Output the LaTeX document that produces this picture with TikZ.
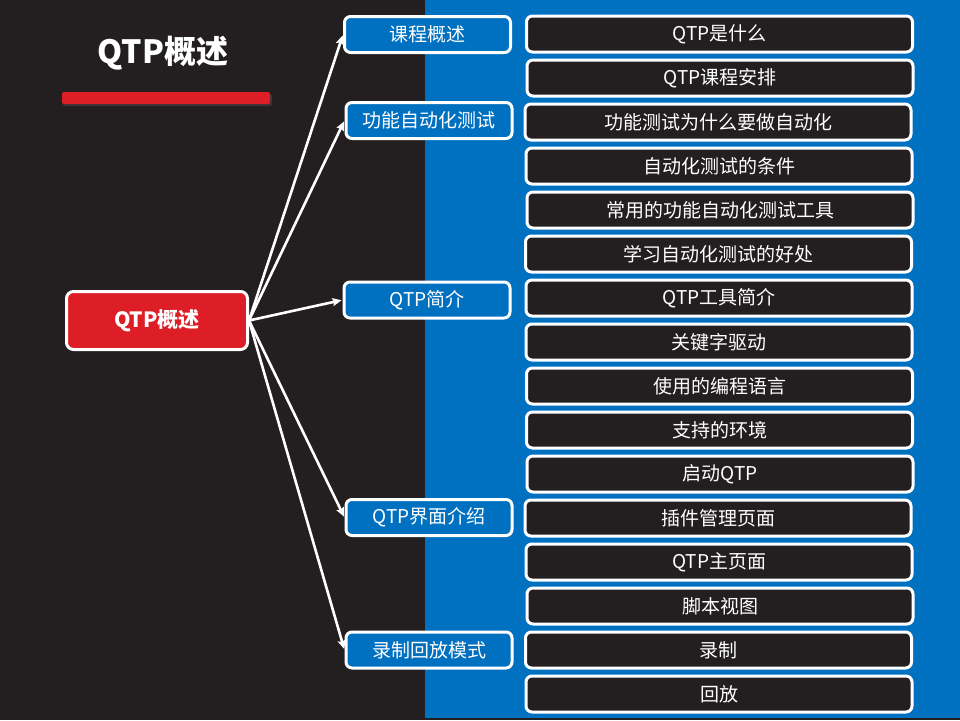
\documentclass[tikz,border=0pt]{standalone}
\usepackage{fontspec}
\setmainfont{Noto Sans CJK SC}
\usetikzlibrary{arrows.meta}
\definecolor{bgdark}{RGB}{35,31,32}
\definecolor{bgblue}{RGB}{0,112,192}
\definecolor{mred}{RGB}{222,30,38}
\begin{document}
\begin{tikzpicture}[x=1pt,y=-1pt,
  rootbox/.style={draw=white, line width=3pt, fill=mred, rounded corners=7pt,
    minimum width=181pt, minimum height=58pt, text=white, font=\fontsize{21}{25}\selectfont\bfseries, inner sep=0pt},
  lvlone/.style={draw=white, line width=3pt, fill=bgblue, rounded corners=6pt,
    minimum width=166pt, minimum height=36pt, text=white, font=\fontsize{19}{23}\selectfont, inner sep=0pt},
  lvltwo/.style={draw=white, line width=3pt, fill=bgdark, rounded corners=6pt,
    minimum width=386pt, minimum height=36pt, text=white, font=\fontsize{19}{23}\selectfont, inner sep=0pt},
  conn/.style={draw=white, line width=2.6pt, -{Stealth[length=9pt,width=8pt,inset=1.5pt]}, shorten >=1pt}
]
\useasboundingbox (0,0) rectangle (960,720);
\fill[bgdark] (0,0) rectangle (960,720);
\fill[bgblue] (425,0) rectangle (960,718);
% title
\node[text=white, font=\fontsize{32}{38}\selectfont\bfseries, inner sep=0pt] (title) at (163,53) {QTP概述};
\fill[black!70, opacity=0.5, rounded corners=1.5pt] (63,94) rectangle (272,106);
\fill[mred, rounded corners=1.5pt] (62,92) rectangle (270,104);
% root
\node[rootbox] (root) at (157,320.5) {QTP概述};
% level one
\node[lvlone] (a) at (427.5,34.5) {课程概述};
\node[lvlone] (b) at (429,120.5) {功能自动化测试};
\node[lvlone] (c) at (427,300) {QTP简介};
\node[lvlone] (d) at (429,517.5) {QTP界面介绍};
\node[lvlone] (e) at (429,650) {录制回放模式};
% level two
\node[lvltwo] (t1) at (719.5,34) {QTP是什么};
\node[lvltwo] (t2) at (720,78) {QTP课程安排};
\node[lvltwo] (t3) at (718,122) {功能测试为什么要做自动化};
\node[lvltwo] (t4) at (719,166) {自动化测试的条件};
\node[lvltwo] (t5) at (720,210) {常用的功能自动化测试工具};
\node[lvltwo] (t6) at (718.5,254) {学习自动化测试的好处};
\node[lvltwo] (t7) at (719,298) {QTP工具简介};
\node[lvltwo] (t8) at (719,342) {关键字驱动};
\node[lvltwo] (t9) at (719.5,386) {使用的编程语言};
\node[lvltwo] (t10) at (719.5,430) {支持的环境};
\node[lvltwo] (t11) at (720,474) {启动QTP};
\node[lvltwo] (t12) at (718,518) {插件管理页面};
\node[lvltwo] (t13) at (719,562) {QTP主页面};
\node[lvltwo] (t14) at (720,606) {脚本视图};
\node[lvltwo] (t15) at (718.5,650) {录制};
\node[lvltwo] (t16) at (719,694) {回放};
% connectors
\foreach \n in {a,b,c,d,e}
  \draw[conn] (root.east) -- (\n.west);
\end{tikzpicture}
\end{document}
